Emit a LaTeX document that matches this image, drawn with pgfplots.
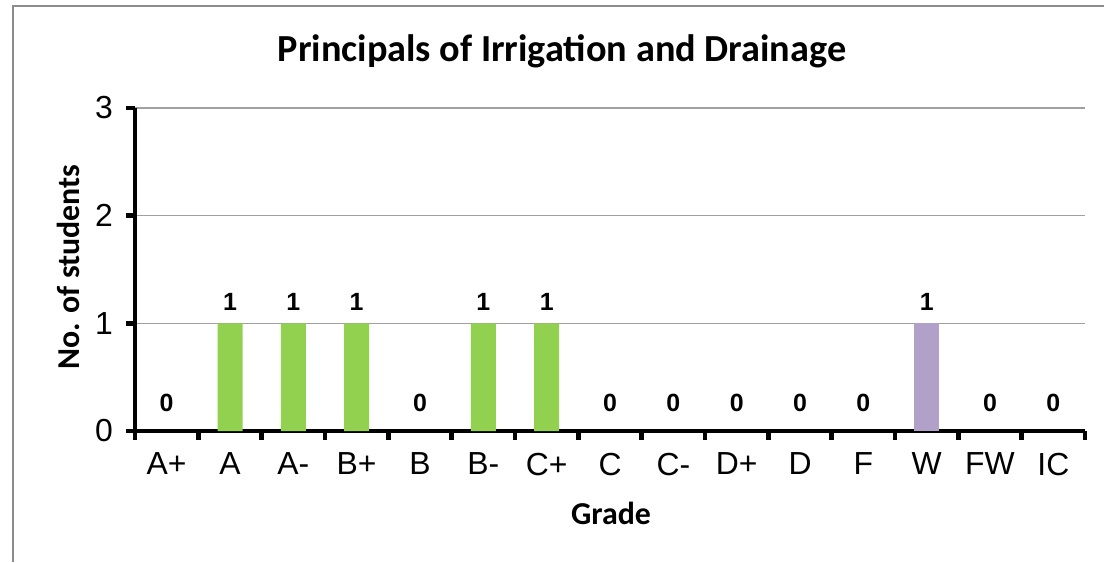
\documentclass[border=0pt]{standalone}
\usepackage{pgfplots}
\pgfplotsset{compat=1.18}
\usepackage{fontspec}
\setmainfont{Liberation Sans}
\newfontfamily\arialfont{Liberation Sans}
\newfontfamily\calibri{Carlito}
\definecolor{bargreen}{HTML}{92D050}
\definecolor{barpurple}{HTML}{B1A0C7}
\definecolor{gridgray}{HTML}{A0A0A0}
\definecolor{bordergray}{HTML}{8C8C8C}
\begin{document}
\begin{tikzpicture}[x=1bp,y=1bp]
\useasboundingbox (0,0) rectangle (552,281);
\draw[bordergray, line width=1bp] (6.5,0) -- (6.5,278) -- (552,278);
\begin{axis}[
  at={(67.5bp,65.5bp)}, anchor=south west,
  width=475bp, height=161.5bp, scale only axis,
  xmin=-0.5, xmax=14.5, ymin=0, ymax=3,
  axis x line*=bottom, axis y line*=left,
  axis line style={-, line width=2.4bp, black},
  xtick={-0.5,0.5,...,14.5},
  x tick label as interval,
  xticklabels={A+,A,A-,B+,B,B-,C+,C,C-,D+,D,F,W,FW,IC},
  ytick={0,1,2,3},
  tick align=outside,
  major tick length=4.5bp,
  tick style={line width=2.4bp, black},
  ymajorgrids,
  grid style={gridgray, line width=0.75bp},
  ticklabel style={font=\arialfont\fontsize{16}{18}\selectfont},
  /pgf/number format/assume math mode=true,
  yticklabel style={xshift=-3bp},
  xticklabel style={yshift=-3bp},
  ybar, bar width=12.5bp, bar shift=0pt,
  point meta=explicit symbolic,
  nodes near coords={\pgfplotspointmeta},
  every node near coord/.append style={black, yshift=3bp, font=\arialfont\bfseries\fontsize{12.5}{14}\selectfont},
  clip=false,
]
\addplot[fill=bargreen, draw=none] coordinates {(1,1)[1] (2,1)[1] (3,1)[1] (5,1)[1] (6,1)[1]};
\addplot[draw=none, fill=none, every node near coord/.append style={yshift=3bp}] coordinates {(0,0)[0] (4,0)[0] (7,0)[0] (8,0)[0] (9,0)[0] (10,0)[0] (11,0)[0] (13,0)[0] (14,0)[0]};
\addplot[fill=barpurple, draw=none] coordinates {(12,1)[1]};
\end{axis}
\node[font=\calibri\bfseries\fontsize{19.2}{22}\selectfont] at (281,255.5) {Principals of Irrigation and Drainage};
\node[font=\calibri\bfseries\fontsize{16}{18}\selectfont, rotate=90] at (34,147.5) {No. of students};
\node[font=\calibri\bfseries\fontsize{16}{18}\selectfont] at (305.5,24.5) {Grade};
\end{tikzpicture}
\end{document}
